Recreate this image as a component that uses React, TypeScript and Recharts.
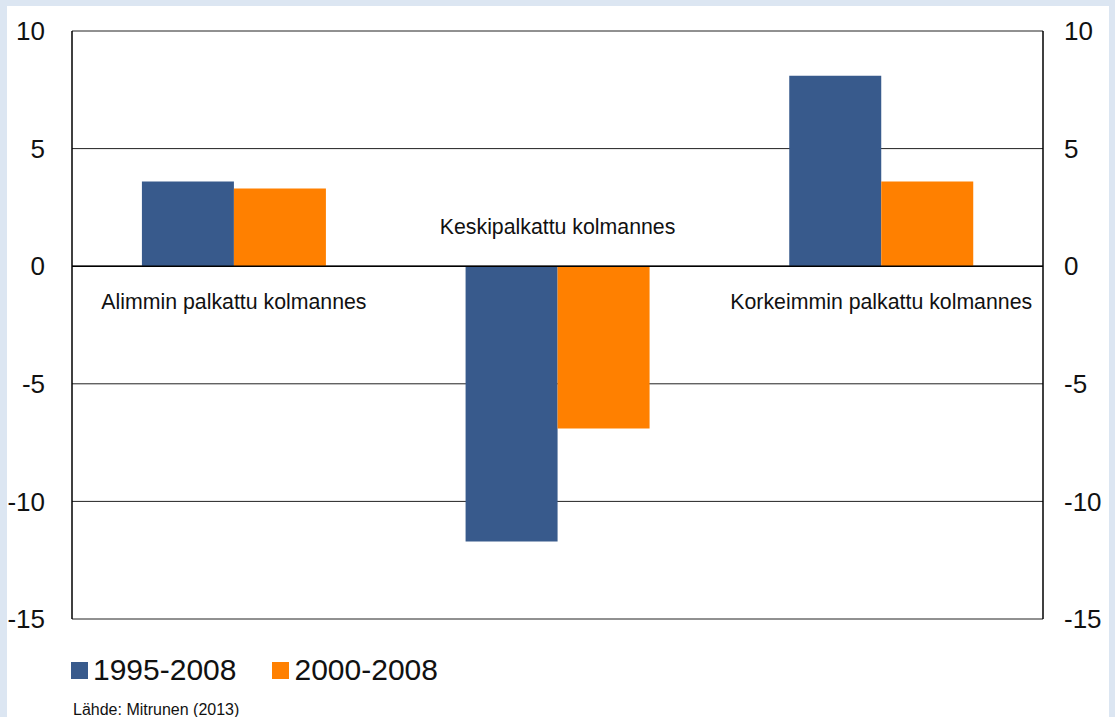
import React from 'react';
import {
    BarChart, Bar, XAxis, YAxis, CartesianGrid, ReferenceLine, LabelList
} from 'recharts';

const categories = ['Alimmin palkattu kolmannes', 'Keskipalkattu kolmannes', 'Korkeimmin palkattu kolmannes'];
const values1995 = [3.6, -11.7, 8.1];
const values2000 = [3.3, -6.9, 3.6];
const seriesNames = ['1995-2008', '2000-2008'];
const seriesColors = ['#385a8c', '#ff8000'];
const yTicks = [-15, -10, -5, 0, 5, 10];
const sourceText = 'Lähde: Mitrunen (2013)';

const FONT = '"Liberation Sans", Arial, sans-serif';

const data = categories.map((name, i) => ({
    name,
    a: values1995[i],
    b: values2000[i],
}));

// category name sits next to the zero line, on the side away from the bars
const CategoryLabel = (props: any) => {
    const { x, y, width, height, index } = props;
    const v = values1995[index];
    const top = Math.min(y, y + height);
    const bottom = Math.max(y, y + height);
    const zeroY = v >= 0 ? bottom : top;
    const cx = x + width;
    const ty = v >= 0 ? zeroY + 36 : zeroY - 39;
    return (
        <text x={cx} y={ty} textAnchor="middle" dominantBaseline="central"
            fontSize={21.3} fill="#111" fontFamily={FONT}>
            {categories[index]}
        </text>
    );
};

export default function App() {
    return (
        <div style={{ position: 'absolute', left: 0, top: 0, width: 1115, height: 717, background: '#dce6f2', fontFamily: FONT }}>
            <div style={{ position: 'absolute', left: 7, top: 6, width: 1102, height: 711, background: '#fff' }} />
            <div style={{ position: 'absolute', left: 0, top: 0 }}>
                <BarChart width={1115} height={640} data={data}
                    margin={{ top: 31, right: 12, bottom: 21, left: 12 }}
                    barCategoryGap="21.6%" barGap={0}>
                    <CartesianGrid yAxisId="left" vertical={false} stroke="#222" strokeWidth={1} />
                    <XAxis dataKey="name" hide />
                    <YAxis yAxisId="left" domain={[-15, 10]} ticks={yTicks} width={60}
                        axisLine={{ stroke: '#000', strokeWidth: 1.5 }} tickLine={false}
                        tickSize={0} tickMargin={27}
                        tick={{ fontSize: 26, fill: '#111', fontFamily: FONT }} />
                    <YAxis yAxisId="right" orientation="right" domain={[-15, 10]} ticks={yTicks} width={60}
                        axisLine={{ stroke: '#000', strokeWidth: 1.5 }} tickLine={false}
                        tickSize={0} tickMargin={21}
                        tick={{ fontSize: 26, fill: '#111', fontFamily: FONT }} />
                    <ReferenceLine yAxisId="left" y={0} stroke="#000" strokeWidth={1.5} />
                    <Bar yAxisId="left" dataKey="a" name={seriesNames[0]} fill={seriesColors[0]} isAnimationActive={false}>
                        <LabelList dataKey="name" content={CategoryLabel} />
                    </Bar>
                    <Bar yAxisId="right" dataKey="b" name={seriesNames[1]} fill={seriesColors[1]} isAnimationActive={false} />
                </BarChart>
            </div>
            <div style={{ position: 'absolute', left: 71, top: 650, display: 'flex', alignItems: 'center', height: 40 }}>
                {seriesNames.map((n, i) => (
                    <div key={n} style={{ display: 'flex', alignItems: 'center', marginRight: 36 }}>
                        <span style={{ display: 'inline-block', width: 17, height: 17, background: seriesColors[i], marginRight: 5 }} />
                        <span style={{ fontSize: 30, color: '#111' }}>{n}</span>
                    </div>
                ))}
            </div>
            <div style={{ position: 'absolute', left: 73, top: 701, fontSize: 16, color: '#111' }}>{sourceText}</div>
        </div>
    );
}
